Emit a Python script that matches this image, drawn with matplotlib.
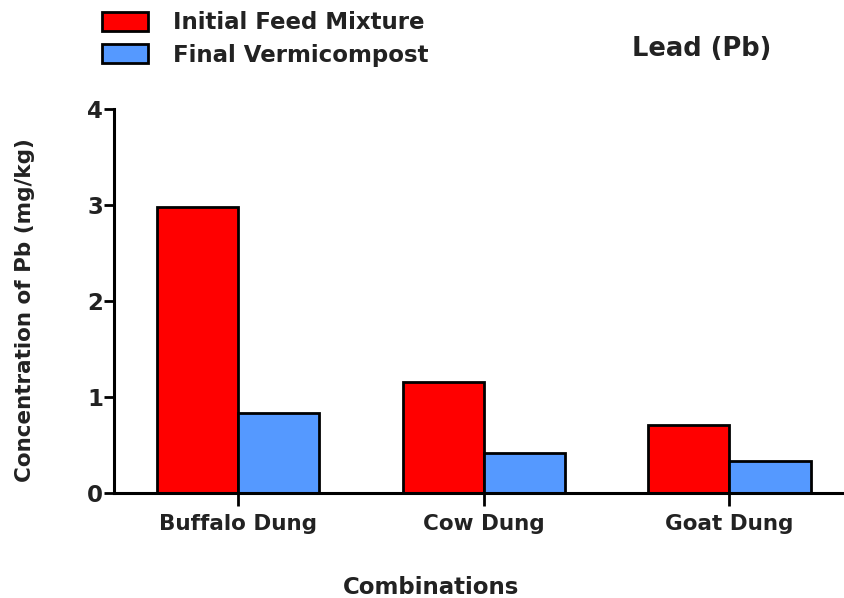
import numpy as np
import matplotlib.pyplot as plt

plt.rcParams['font.family'] = ['DejaVu Sans']
plt.rcParams['font.weight'] = 'bold'

groups = ['Buffalo Dung', 'Cow Dung', 'Goat Dung']
initial_feed = [2.98, 1.15, 0.71]
final_vermi = [0.83, 0.41, 0.33]

fig = plt.figure(figsize=(8.45, 5.98), dpi=100)
ax = fig.add_axes([0.135, 0.176, 0.862, 0.642])

x = np.arange(len(groups))
w = 0.33
ax.bar(x - w / 2, initial_feed, w, color='#ff0000', edgecolor='black',
       linewidth=2, label='Initial Feed Mixture')
ax.bar(x + w / 2, final_vermi, w, color='#5599ff', edgecolor='black',
       linewidth=2, label='Final Vermicompost')

ax.set_xlim(-0.505, 2.46)
ax.set_ylim(0, 4)
ax.set_yticks([0, 1, 2, 3, 4])
ax.set_xticks(x)
ax.set_xticklabels(groups, fontsize=15.5, fontweight='bold', color='#222222')
for t in ax.get_yticklabels():
    t.set_fontsize(16.5)
    t.set_fontweight('bold')
    t.set_color('#222222')

for s in ['top', 'right']:
    ax.spines[s].set_visible(False)
for s in ['left', 'bottom']:
    ax.spines[s].set_linewidth(2.2)
ax.tick_params(axis='y', length=7, width=2, pad=1)
ax.tick_params(axis='x', length=9, width=2, pad=6)

ax.set_ylabel('Concentration of Pb (mg/kg)', fontsize=15.5, fontweight='bold',
              color='#222222')
ax.yaxis.set_label_coords(-0.122, 0.477)
ax.set_xlabel('Combinations', fontsize=16.5, fontweight='bold', color='#222222')
ax.xaxis.set_label_coords(0.435, -0.247)
ax.xaxis.label.set_va('center')
ax.yaxis.label.set_va('center')

fig.text(0.748, 0.918, 'Lead (Pb)', fontsize=18.5, fontweight='bold',
         color='#222222', va='center')
leg = fig.legend(loc='upper left', bbox_to_anchor=(102 / 845, 1 - 11 / 598),
                 frameon=False, handlelength=2.0, handleheight=0.9,
                 labelspacing=0.42, handletextpad=1.1, borderpad=0,
                 borderaxespad=0, prop={'weight': 'bold', 'size': 16.5})
for t in leg.get_texts():
    t.set_color('#222222')

fig.savefig('out.png', dpi=100)
